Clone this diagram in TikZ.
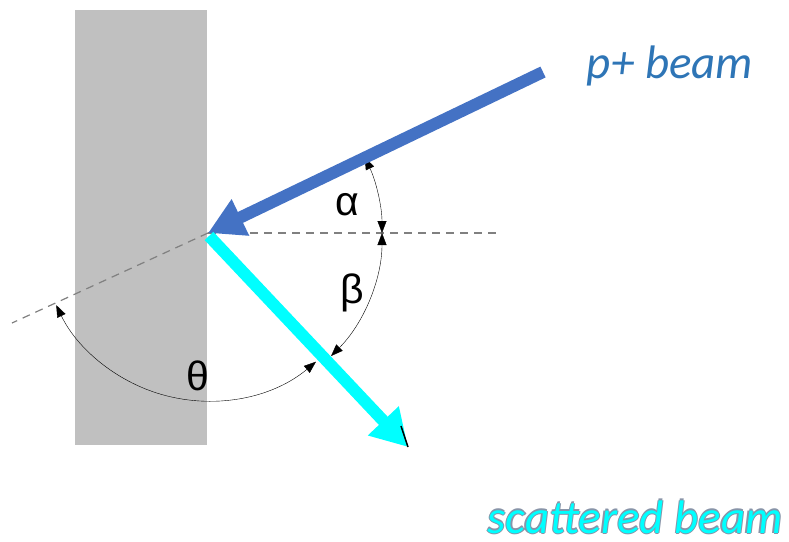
\documentclass[tikz,border=0pt]{standalone}
\usepackage{fontspec}
\setmainfont{Carlito}
\newfontfamily\greekfont{Liberation Sans}
\usetikzlibrary{arrows.meta}
\definecolor{beamblue}{HTML}{4472C4}
\definecolor{labelblue}{HTML}{2E75B6}
\definecolor{wallgray}{HTML}{C0C0C0}
\definecolor{rimgray}{HTML}{8894A8}
\definecolor{beamcyan}{HTML}{00FFFF}
% testo ciano con bordo grigio
\newcommand{\rimtext}[1]{%
  \rlap{\hspace{-1.2pt}\textcolor{rimgray}{#1}}%
  \rlap{\hspace{1.2pt}\textcolor{rimgray}{#1}}%
  \rlap{\raisebox{1.2pt}{\textcolor{rimgray}{#1}}}%
  \rlap{\raisebox{-1.2pt}{\textcolor{rimgray}{#1}}}%
  \textcolor{beamcyan}{#1}}
\tikzset{
  angarc/.style={thin, black, {Triangle[length=12pt,width=9pt]}-{Triangle[length=12pt,width=9pt]}},
  axisline/.style={gray, dash pattern=on 8pt off 6pt, line width=1.2pt},
  greek/.style={font=\greekfont\fontsize{41}{46}\selectfont},
  biglabel/.style={anchor=base, inner sep=0pt, text depth=0pt, font=\fontsize{47}{54}\selectfont\itshape}
}
\begin{document}
\begin{tikzpicture}[x=1pt, y=-1pt, line cap=butt, line join=miter]
\useasboundingbox (0,0) rectangle (789,541);

% Bersaglio
\fill[wallgray] (75,10) rectangle (207,445);

% Punto di impatto
\coordinate (O) at (208,233);
\coordinate (src) at (543,72);
\coordinate (start) at (209,236);
\coordinate (out) at (408,447);
\coordinate (back) at (12,323);
\coordinate (hor) at (497,233);

% Linee tratteggiate
\draw[axisline] (O) -- (hor);
\draw[axisline] (O) -- (back);

% Archi degli angoli
\draw[angarc] (O) ++(-25.7:174) arc[start angle=-25.7, end angle=0, radius=174];
\draw[angarc] (O) ++(0:174) arc[start angle=0, end angle=45, radius=174];
\draw[angarc] (O) ++(50:168) arc[start angle=50, end angle=154.6, radius=168];

\node[greek] (alpha) at (347,205) {α};
\node[greek] (beta) at (352,293) {β};
\node[greek] (theta) at (198,376) {θ};

% Fascio incidente
\draw[beamblue, line width=12pt, -{Triangle[length=36pt,width=38pt]}] (src) -- (O);

% Fascio diffuso
\draw[beamcyan, line width=12pt, -{Triangle[length=36pt,width=40pt]}] (start) -- (out);
\draw[black, line width=1.5pt] (401,426) -- (408,447);

% Etichette
\node[biglabel, text=labelblue] (plabel) at (670,78) {p+ beam};
\node[biglabel] (slabel) at (635,533) {\rimtext{scattered beam}};

\end{tikzpicture}
\end{document}
